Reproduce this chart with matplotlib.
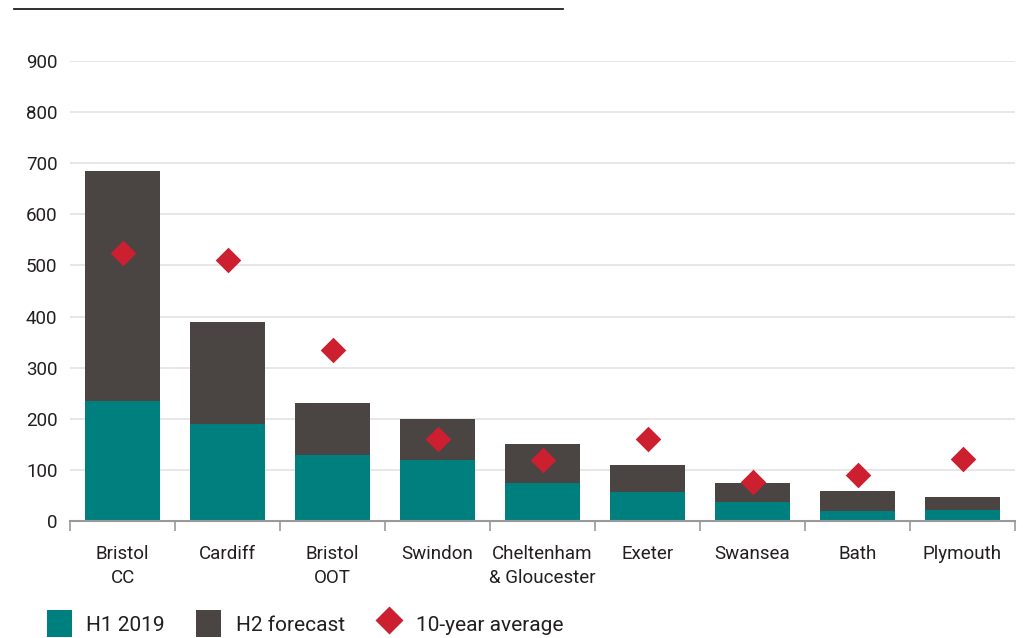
import numpy as np
import matplotlib.pyplot as plt
from matplotlib.lines import Line2D
from matplotlib.patches import Patch

# Datos del gráfico
ciudades = ['Bristol\nCC', 'Cardiff', 'Bristol\nOOT', 'Swindon', 'Cheltenham\n& Gloucester',
            'Exeter', 'Swansea', 'Bath', 'Plymouth']
h1_2019 = [235, 190, 130, 120, 75, 57, 37, 20, 22]
h2_forecast = [450, 200, 100, 80, 75, 53, 38, 38, 25]
promedio_10 = [525, 510, 335, 160, 120, 160, 76, 90, 122]

verde = '#007F7F'
gris = '#4A4542'
rojo = '#CC1F30'

plt.rcParams['font.family'] = ['Roboto', 'DejaVu Sans']

fig = plt.figure(figsize=(10.23, 6.38), dpi=100)
ax = fig.add_axes([70/1023, 1 - 521/638, 945/1023, 460/638])

x = np.arange(len(ciudades))
ax.bar(x, h1_2019, width=0.72, color=verde, zorder=2)
ax.bar(x, h2_forecast, width=0.72, bottom=h1_2019, color=gris, zorder=2)
ax.scatter(x, promedio_10, marker='D', s=170, color=rojo, zorder=3, linewidths=0)

ax.set_xlim(-0.5, len(ciudades) - 0.5)
ax.set_ylim(0, 900)
ax.set_yticks(range(0, 901, 100))
ax.grid(axis='y', color='#E3E3E3', linewidth=1.2, zorder=0)
ax.set_axisbelow(True)

ax.set_xticks(x)
ax.set_xticklabels(ciudades, fontsize=13.5, color='#231F20', linespacing=1.45)
ax.set_xticks(np.arange(-0.5, len(ciudades)), minor=True)
ax.tick_params(axis='x', which='major', length=0, pad=17)
ax.tick_params(axis='x', which='minor', length=7, color='#999999', width=1.2)
ax.tick_params(axis='y', length=0, labelsize=13.5, labelcolor='#231F20', pad=9)

for lado in ['top', 'right', 'left']:
    ax.spines[lado].set_visible(False)
ax.spines['bottom'].set_color('#999999')
ax.spines['bottom'].set_linewidth(1.5)

# Línea superior decorativa
fig.add_artist(Line2D([14/1023, 563/1023], [1 - 9/638, 1 - 9/638], color='#231F20', linewidth=1.3))

# Leyenda
elementos = [Patch(facecolor=verde, label='H1 2019'),
             Patch(facecolor=gris, label='H2 forecast'),
             Line2D([], [], marker='D', color='none', markerfacecolor=rojo, markeredgecolor='none',
                    markersize=14, label='10-year average')]
fig.legend(handles=elementos, loc='lower left', bbox_to_anchor=(28/1023, -0.028), ncol=3,
           frameon=False, fontsize=15, handlelength=1.2, handleheight=1.6,
           columnspacing=1.5, handletextpad=0.7, labelcolor='#231F20')

plt.savefig('out.png', dpi=100)
